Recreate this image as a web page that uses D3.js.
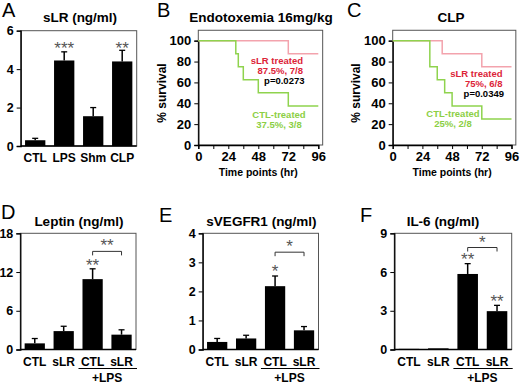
<!DOCTYPE html>
<html>
<head>
<meta charset="utf-8">
<script src="https://cdn.jsdelivr.net/npm/d3@7"></script>
<style>
  body { margin: 0; background: #fff; }
  svg text { font-family: "Liberation Sans", Arial, Helvetica, sans-serif; }
</style>
</head>
<body>
<div id="chart"></div>
<script>
// ---- data ----
const slrCats = ["CTL", "LPS", "Shm", "CLP"];
const slrMean = [0.3, 4.45, 1.55, 4.4];
const slrErr  = [0.1, 0.45, 0.45, 0.58];

const lpsCats = ["CTL", "sLR", "CTL", "sLR"];
const leptinMean = [0.95, 2.85, 10.9, 2.3];
const leptinErr  = [0.75, 0.75, 1.6, 0.75];
const vegfMean = [0.26, 0.38, 2.18, 0.66];
const vegfErr  = [0.12, 0.11, 0.35, 0.13];
const il6Mean = [0.05, 0.09, 5.85, 2.97];
const il6Err  = [0.0, 0.0, 0.8, 0.45];

const timeTicks = [0, 24, 48, 72, 96];
const survTicks = [0, 20, 40, 60, 80, 100];

// Kaplan-Meier steps (time in hr, % survival)
const endoSlrTime = [0, 72, 96];
const endoSlrSurv = [100, 87.5, 87.5];
const endoCtlTime = [0, 30, 32, 36, 48, 72, 96];
const endoCtlSurv = [100, 87.5, 75, 62.5, 50, 37.5, 37.5];
const clpSlrTime = [0, 40, 72, 96];
const clpSlrSurv = [100, 87.5, 75, 75];
const clpCtlTime = [0, 30, 36, 42, 48, 72, 96];
const clpCtlSurv = [100, 75, 62.5, 50, 37.5, 25, 25];

const redLine = "#f3a3ad", redText = "#dc2438";
const greenLine = "#8fd34e", greenText = "#8ccf45";

const svg = d3.select("#chart")
  .append("svg")
    .attr("width", 520)
    .attr("height", 385);

function letter(t, x, y) {
  svg.append("text").attr("x", x).attr("y", y)
    .style("font-size", "20px").text(t);
}

function barPanel(o) {
  const x = d3.scaleBand().domain(d3.range(o.cats.length))
    .range([o.x0, o.x1]).paddingInner(0.3).paddingOuter(0.15);
  const y = d3.scaleLinear().domain([0, o.max]).range([o.yBot, o.yTop]);
  const g = svg.append("g");

  // frame
  g.append("rect")
    .attr("x", o.x0).attr("y", o.yTop)
    .attr("width", o.x1 - o.x0).attr("height", o.yBot - o.yTop)
    .attr("fill", "none").attr("stroke", "#555").attr("stroke-width", 1);

  // y axis
  const ya = g.append("g")
    .attr("transform", `translate(${o.x0},0)`)
    .call(d3.axisLeft(y).tickValues(o.ticks).tickFormat(d3.format("d"))
      .tickSize(4).tickPadding(3));
  ya.select(".domain").attr("stroke-width", 1.3);
  ya.selectAll("text").style("font-size", "12.5px").style("font-weight", "bold")
    .attr("fill", "#000").style("font-family", "Liberation Sans, Arial, sans-serif");

  // x baseline
  g.append("line").attr("x1", o.x0).attr("x2", o.x1)
    .attr("y1", o.yBot).attr("y2", o.yBot)
    .attr("stroke", "#000").attr("stroke-width", 1.3);

  // bars
  g.selectAll(".bar").data(o.mean).enter()
    .append("rect")
    .attr("x", (d, i) => x(i))
    .attr("y", d => y(d))
    .attr("width", x.bandwidth())
    .attr("height", d => o.yBot - y(d))
    .attr("fill", "#000");

  // error bars (upper only)
  o.mean.forEach((m, i) => {
    if (!o.err[i]) return;
    const cx = x(i) + x.bandwidth() / 2;
    g.append("line").attr("x1", cx).attr("x2", cx)
      .attr("y1", y(m)).attr("y2", y(m + o.err[i]))
      .attr("stroke", "#000").attr("stroke-width", 1.5);
    g.append("line").attr("x1", cx - 3).attr("x2", cx + 3)
      .attr("y1", y(m + o.err[i])).attr("y2", y(m + o.err[i]))
      .attr("stroke", "#000").attr("stroke-width", 1.3);
  });

  // category labels
  g.selectAll(".cat").data(o.cats).enter()
    .append("text")
    .attr("x", (d, i) => x(i) + x.bandwidth() / 2)
    .attr("y", o.yBot + 16)
    .attr("text-anchor", "middle")
    .style("font-size", "12px").style("font-weight", "bold")
    .text(d => d);

  // title
  svg.append("text").attr("x", o.titleX).attr("y", o.titleY)
    .attr("text-anchor", "middle")
    .style("font-size", "13.5px").style("font-weight", "bold")
    .text(o.title);

  // significance stars above bars
  (o.stars || []).forEach(s => {
    g.append("text")
      .attr("x", x(s.i) + x.bandwidth() / 2)
      .attr("y", y(s.v) + 10)
      .attr("text-anchor", "middle")
      .attr("fill", "#555")
      .style("font-size", "17px")
      .text(s.t);
  });

  // bracket between +LPS groups
  if (o.bracket) {
    const b = o.bracket;
    const xa = x(b.a) + x.bandwidth() / 2, xb = x(b.b) + x.bandwidth() / 2;
    g.append("path")
      .attr("d", `M${xa},${y(b.v) + 4}V${y(b.v)}H${xb}V${y(b.v) + 4}`)
      .attr("fill", "none").attr("stroke", "#333").attr("stroke-width", 1);
    g.append("text")
      .attr("x", (xa + xb) / 2).attr("y", y(b.v) - 10 + 10)
      .attr("text-anchor", "middle").attr("fill", "#555")
      .style("font-size", "17px")
      .text(b.t);
  }

  // +LPS group line
  if (o.lps) {
    const xa = x(2) - 4, xb = o.x1 + 1;
    g.append("line").attr("x1", xa).attr("x2", xb)
      .attr("y1", o.yBot + 19).attr("y2", o.yBot + 19)
      .attr("stroke", "#000").attr("stroke-width", 1.2);
    g.append("text")
      .attr("x", (x(2) + x(3) + x.bandwidth()) / 2)
      .attr("y", o.yBot + 32)
      .attr("text-anchor", "middle")
      .style("font-size", "12px").style("font-weight", "bold")
      .text("+LPS");
  }
}

function survivalPanel(o) {
  const x = d3.scaleLinear().domain([0, 96]).range([o.x0, o.x96]);
  const y = d3.scaleLinear().domain([0, 100]).range([145, 40.7]);
  const g = svg.append("g");

  g.append("rect")
    .attr("x", x(0)).attr("y", y(110))
    .attr("width", x(99.5) - x(0)).attr("height", y(0) - y(110))
    .attr("fill", "none").attr("stroke", "#555").attr("stroke-width", 1);

  const xa = g.append("g")
    .attr("transform", `translate(0,${y(0)})`)
    .call(d3.axisBottom(x).tickValues(d3.range(0, 97, 12)).tickSize(4).tickPadding(3)
      .tickFormat(d => timeTicks.includes(d) ? d : ""));
  xa.select(".domain").attr("stroke-width", 1.3);
  xa.selectAll("text").style("font-size", "13px").style("font-weight", "bold")
    .style("font-family", "Liberation Sans, Arial, sans-serif");

  const ya = g.append("g")
    .attr("transform", `translate(${x(0)},0)`)
    .call(d3.axisLeft(y).tickValues(survTicks).tickSize(4).tickPadding(3));
  ya.select(".domain").attr("stroke-width", 1.3);
  ya.selectAll("text").style("font-size", "13px").style("font-weight", "bold")
    .style("font-family", "Liberation Sans, Arial, sans-serif");

  const line = d3.line()
    .x(d => x(d[0])).y(d => y(d[1]))
    .curve(d3.curveStepAfter);

  g.append("path").datum(d3.zip(o.slrTime, o.slrSurv))
    .attr("d", line).attr("fill", "none")
    .attr("stroke", redLine).attr("stroke-width", 1.5);
  g.append("path").datum(d3.zip(o.ctlTime, o.ctlSurv))
    .attr("d", line).attr("fill", "none")
    .attr("stroke", greenLine).attr("stroke-width", 1.5);

  // titles
  svg.append("text").attr("x", o.titleX).attr("y", 22)
    .attr("text-anchor", "middle")
    .style("font-size", "13.5px").style("font-weight", "bold")
    .text(o.title);
  svg.append("text")
    .attr("transform", `translate(${o.ylabX},93) rotate(-90)`)
    .attr("text-anchor", "middle")
    .style("font-size", "12px").style("font-weight", "bold")
    .text("% survival");
  svg.append("text").attr("x", (x(0) + x(96)) / 2).attr("y", 176)
    .attr("text-anchor", "middle")
    .style("font-size", "10.5px").style("font-weight", "bold")
    .text("Time points (hr)");

  // annotations
  const t = (txt, tx, ty, col, anchor) => g.append("text")
    .attr("x", tx).attr("y", ty).attr("text-anchor", anchor)
    .attr("fill", col).style("font-size", "9.5px").style("font-weight", "bold")
    .text(txt);
  t("sLR treated", o.rx, o.ry, redText, "end");
  t(o.slrNote, o.rx, o.ry + 10, redText, "end");
  t(o.p, o.rx + 1.5, o.ry + 20, "#000", "end");
  t("CTL-treated", o.gx, o.gy, greenText, "middle");
  t(o.ctlNote, o.gx, o.gy + 10, greenText, "middle");
}

// ---- panels ----
letter("A", 2, 17);
barPanel({
  x0: 20.7, x1: 136.7, yTop: 30.7, yBot: 146, max: 6, ticks: [0, 2, 4, 6],
  cats: slrCats, mean: slrMean, err: slrErr,
  title: "sLR (ng/ml)", titleX: 80, titleY: 22,
  stars: [{i: 1, v: 5.3, t: "***"}, {i: 3, v: 5.3, t: "**"}]
});

letter("B", 157, 17);
survivalPanel({
  x0: 198.3, x96: 318.3, title: "Endotoxemia 16mg/kg", titleX: 261, ylabX: 166,
  slrTime: endoSlrTime, slrSurv: endoSlrSurv, ctlTime: endoCtlTime, ctlSurv: endoCtlSurv,
  rx: 303, ry: 64, slrNote: "87.5%, 7/8", p: "p=0.0273",
  gx: 279, gy: 117.5, ctlNote: "37.5%, 3/8"
});

letter("C", 347, 17);
survivalPanel({
  x0: 392.7, x96: 511.5, title: "CLP", titleX: 451, ylabX: 360,
  slrTime: clpSlrTime, slrSurv: clpSlrSurv, ctlTime: clpCtlTime, ctlSurv: clpCtlSurv,
  rx: 502.5, ry: 76.5, slrNote: "75%, 6/8", p: "p=0.0349",
  gx: 453, gy: 116.5, ctlNote: "25%, 2/8"
});

letter("D", 1, 219);
barPanel({
  x0: 20.3, x1: 136, yTop: 233.3, yBot: 349.5, max: 18, ticks: [0, 6, 12, 18],
  cats: lpsCats, mean: leptinMean, err: leptinErr,
  title: "Leptin (ng/ml)", titleX: 79, titleY: 226, lps: true,
  stars: [{i: 2, v: 13.7, t: "**"}],
  bracket: {a: 2, b: 3, v: 15.2, t: "**"}
});

letter("E", 159, 222);
barPanel({
  x0: 202.7, x1: 318.5, yTop: 233.3, yBot: 349.5, max: 4, ticks: [0, 1, 2, 3, 4],
  cats: lpsCats, mean: vegfMean, err: vegfErr,
  title: "sVEGFR1 (ng/ml)", titleX: 261.5, titleY: 226, lps: true,
  stars: [{i: 2, v: 2.85, t: "*"}],
  bracket: {a: 2, b: 3, v: 3.35, t: "*"}
});

letter("F", 360, 222);
barPanel({
  x0: 394.3, x1: 511.7, yTop: 233.3, yBot: 349.5, max: 9, ticks: [0, 3, 6, 9],
  cats: lpsCats, mean: il6Mean, err: il6Err,
  title: "IL-6 (ng/ml)", titleX: 443, titleY: 226, lps: true,
  stars: [{i: 2, v: 7.35, t: "**"}, {i: 3, v: 4.1, t: "**"}],
  bracket: {a: 2, b: 3, v: 7.9, t: "*"}
});
</script>
</body>
</html>
